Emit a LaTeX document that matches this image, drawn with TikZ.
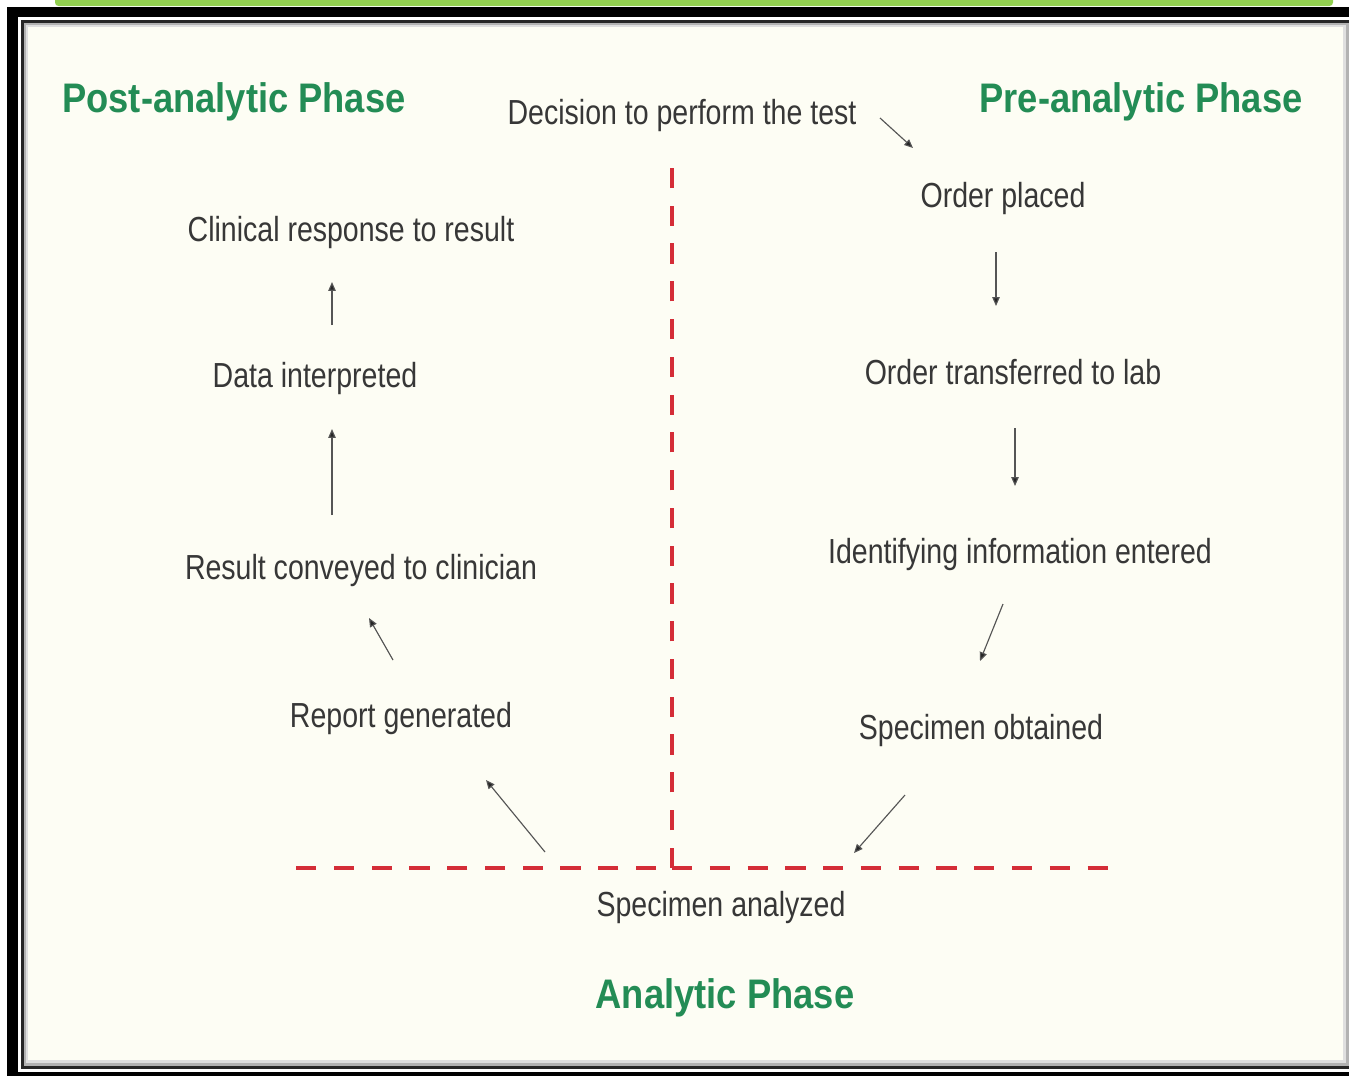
\documentclass[tikz,border=0pt]{standalone}
\usepackage{fontspec}
\setmainfont[FakeStretch=0.82]{Liberation Sans}
\newfontfamily\headfont[FakeStretch=0.88]{Liberation Sans}
\usetikzlibrary{arrows.meta}
\definecolor{phasegreen}{RGB}{35,140,85}
\definecolor{labelgray}{RGB}{55,55,55}
\definecolor{shaftgray}{RGB}{85,85,85}
\definecolor{divred}{RGB}{212,45,55}
\definecolor{paper}{RGB}{253,253,244}
\definecolor{bargreen}{RGB}{146,208,80}
\tikzset{
phase/.style={anchor=base,inner sep=0pt,text=phasegreen,font=\headfont\bfseries\fontsize{23.5}{28}\selectfont},
stage/.style={anchor=base,inner sep=0pt,text=labelgray,font=\fontsize{19.8}{24}\selectfont},
flow/.style={draw=shaftgray,line width=0.65pt,-{Triangle[length=5pt,width=4.2pt,fill=black!85]}},
divider/.style={draw=divred,line width=2.3pt,dash pattern=on 11.5pt off 10pt}
}
\begin{document}
\begin{tikzpicture}[x=0.02cm,y=-0.02cm]
\useasboundingbox (0,0) rectangle (1349,1076);
\fill[white] (0,0) rectangle (1349,1076);
\fill[bargreen,rounded corners=2pt] (55,-5) rectangle (1333,6);
\fill[black] (7,7) rectangle (1349,1076);
\fill[white] (18,17) rectangle (1349,1072);
\fill[black!85] (21,20) rectangle (1349,1069);
\fill[gray!60] (24,23) rectangle (1349,1066);
\fill[gray!25] (26,25) rectangle (1346,1063);
\fill[paper] (28,27) rectangle (1343,1060);

\node[phase] (post) at (234,112) {Post-analytic Phase};
\node[phase] (pre) at (1141,112) {Pre-analytic Phase};
\node[phase] (analytic) at (725,1008) {Analytic Phase};

\node[stage] (decide) at (682,124) {Decision to perform the test};
\node[stage] (order) at (1003,207) {Order placed};
\node[stage] (transfer) at (1013,384) {Order transferred to lab};
\node[stage] (ident) at (1020,563) {Identifying information entered};
\node[stage] (obtain) at (981,739) {Specimen obtained};
\node[stage] (analyze) at (721,916) {Specimen analyzed};
\node[stage] (report) at (401,727) {Report generated};
\node[stage] (convey) at (361,579) {Result conveyed to clinician};
\node[stage] (interp) at (315,387) {Data interpreted};
\node[stage] (respond) at (351,241) {Clinical response to result};

\coordinate (corner) at (672,868);
\coordinate (vtop) at (672,160);
\coordinate (hleft) at (289,868);
\coordinate (hright) at (1108,868);
\draw[divider] (corner) -- (vtop);
\draw[divider] (corner) -- (hright);
\draw[divider,dash phase=12.5pt] (corner) -- (hleft);

\coordinate (decideout) at (880,118);
\coordinate (orderin) at (913,148);
\coordinate (orderout) at (996,252);
\coordinate (transferin) at (996,306);
\coordinate (transferout) at (1015,428);
\coordinate (identin) at (1015,486);
\coordinate (identout) at (1003,604);
\coordinate (obtainin) at (980,661);
\coordinate (obtainout) at (905,795);
\coordinate (analyzein) at (854,853);
\coordinate (analyzeout) at (545,852);
\coordinate (reportin) at (486,780);
\coordinate (reportout) at (393,660);
\coordinate (conveyin) at (369,618);
\coordinate (conveyout) at (332,515);
\coordinate (interpin) at (332,429);
\coordinate (interpout) at (332,325);
\coordinate (respondin) at (332,282);
\draw[flow] (decideout) -- (orderin);
\draw[flow] (orderout) -- (transferin);
\draw[flow] (transferout) -- (identin);
\draw[flow] (identout) -- (obtainin);
\draw[flow] (obtainout) -- (analyzein);
\draw[flow] (analyzeout) -- (reportin);
\draw[flow] (reportout) -- (conveyin);
\draw[flow] (conveyout) -- (interpin);
\draw[flow] (interpout) -- (respondin);
\end{tikzpicture}
\end{document}
